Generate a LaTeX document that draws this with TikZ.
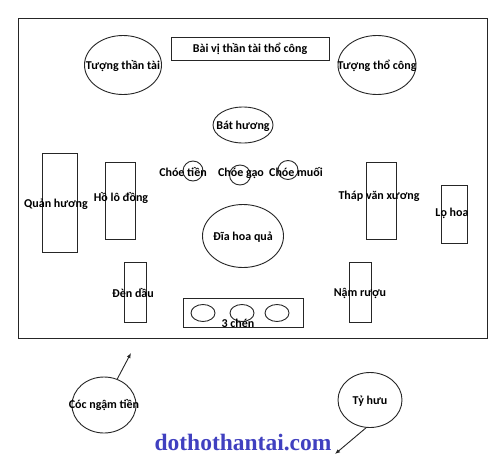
\documentclass[tikz,border=0pt]{standalone}
\usepackage{fontspec}
\setmainfont{Carlito}
\newfontfamily\wmfont{Liberation Serif}
\usetikzlibrary{shapes.geometric,arrows.meta}
\definecolor{wmblue}{RGB}{64,64,192}
\begin{document}
\begin{tikzpicture}[x=1pt,y=-1pt,
 line/.style={draw=black!85,line width=0.9pt},
 oval/.style={line,ellipse,inner sep=0pt},
 box/.style={line,rectangle,inner sep=0pt},
 lbl/.style={font=\bfseries\fontsize{12}{12}\selectfont,inner sep=0pt,anchor=base},
 arr/.style={line,-{Latex[length=5pt,width=4pt]}}]
\useasboundingbox (0,0) rectangle (500,458);
\fill[white] (0,0) rectangle (500,458);
% frame
\node[box,minimum width=469pt,minimum height=320pt] (frame) at (252.5,178) {};
% top
\node[box,minimum width=158pt,minimum height=23pt] (baivi) at (250,48.5) {};
\node[lbl] (baiviT) at (250,52.5) {Bài vị thần tài thổ công};
\node[oval,minimum width=77pt,minimum height=59pt] (thantai) at (123,65) {};
\node[lbl] (thantaiT) at (123,69) {Tượng thần tài};
\node[oval,minimum width=78pt,minimum height=59pt] (thocong) at (377,65) {};
\node[lbl] (thocongT) at (377,69) {Tượng thổ công};
\node[oval,minimum width=60pt,minimum height=36pt] (bathuong) at (243,125) {};
\node[lbl] (bathuongT) at (243,129) {Bát hương};
% choe
\node[oval,minimum width=20pt,minimum height=20pt] (choetien) at (193,171) {};
\node[lbl] (choetienT) at (183,176) {Chóe tiền};
\node[oval,minimum width=21pt,minimum height=20pt] (choegao) at (240,175) {};
\node[lbl] (choegaoT) at (241,176) {Chóe gạo};
\node[oval,minimum width=20pt,minimum height=19pt] (choemuoi) at (288,170) {};
\node[lbl] (choemuoiT) at (296,176) {Chóe muối};
% dia hoa qua
\node[oval,minimum width=81pt,minimum height=63pt] (dia) at (243,236) {};
\node[lbl] (diaT) at (243,240) {Đĩa hoa quả};
% 3 chen
\node[box,minimum width=120pt,minimum height=29pt] (chen) at (243,312.5) {};
\node[oval,minimum width=24pt,minimum height=17pt] (chen1) at (203,313) {};
\node[oval,minimum width=24pt,minimum height=17pt] (chen2) at (242,313) {};
\node[oval,minimum width=24pt,minimum height=17pt] (chen3) at (277,313) {};
\node[lbl] (chenT) at (238,327) {3 chén};
% left
\node[box,minimum width=35pt,minimum height=99pt] (quan) at (59.5,202.5) {};
\node[lbl] (quanT) at (56,207) {Quản hương};
\node[box,minimum width=30pt,minimum height=77pt] (holo) at (120,200.5) {};
\node[lbl] (holoT) at (121,201) {Hồ lô đồng};
\node[box,minimum width=22pt,minimum height=60pt] (den) at (135,292) {};
\node[lbl] (denT) at (133,297) {Đèn dầu};
% right
\node[box,minimum width=30pt,minimum height=77pt] (thap) at (381,200.5) {};
\node[lbl] (thapT) at (379,199) {Tháp văn xương};
\node[box,minimum width=26pt,minimum height=58pt] (lo) at (454,214) {};
\node[lbl] (loT) at (452,216) {Lọ hoa};
\node[box,minimum width=22pt,minimum height=60pt] (nam) at (360,292) {};
\node[lbl] (namT) at (360,296) {Nậm rượu};
% outside
\node[oval,minimum width=64pt,minimum height=56pt] (coc) at (104,405) {};
\node[lbl] (cocT) at (104,408) {Cóc ngậm tiền};
\node[oval,minimum width=64pt,minimum height=55pt] (ty) at (370,400) {};
\node[lbl] (tyT) at (370,404) {Tỷ hưu};
\coordinate (cocTip) at (131,353);
\coordinate (tyTip) at (335,454);
\draw[arr] (coc.63) -- (cocTip);
\draw[arr] (ty.-98) -- (tyTip);
% watermark
\node[font=\wmfont\bfseries\fontsize{23.5}{24}\selectfont,text=wmblue,inner sep=0pt,anchor=base] (wm) at (243,450) {dothothantai.com};
\end{tikzpicture}
\end{document}
